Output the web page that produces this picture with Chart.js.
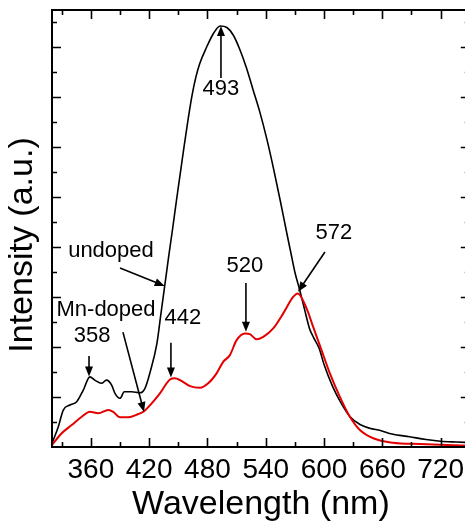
<!DOCTYPE html>
<html><head><meta charset="utf-8">
<script src="https://cdn.jsdelivr.net/npm/chart.js@4.4.0/dist/chart.umd.min.js"></script>
<style>
html,body{margin:0;padding:0;overflow:hidden;background:#fff;width:465px;height:530px}
#wrap{position:absolute;left:0;top:0;width:470px;height:530px}
</style>
</head><body><div id="wrap"><canvas id="c" width="470" height="530"></canvas></div>
<script>
// ---- data ----
const xTickValues = [360, 420, 480, 540, 600, 660, 720];

const undopedNm = [320, 326.5, 331.6, 338.5, 345.4, 352.2, 359, 364, 371, 376, 381.4, 384.8, 390, 394.4, 402, 410.5, 415.7,
  421, 428, 432, 436, 440, 444, 448, 452, 456, 460, 464, 468, 472, 479, 486, 493,
  500, 506.5, 513, 520, 527, 534, 541, 548, 555, 562, 566, 570, 575, 580, 585, 589, 595, 600, 609, 617, 627, 637,
  647, 658, 670, 688, 705, 720, 736, 750];
const undopedI = [0.15, 0.81, 1.48, 1.68, 1.81, 2.28, 2.81, 2.68, 2.55, 2.68, 2.48, 2.15, 1.95, 2.21, 2.21, 2.17, 2.35,
  3.0, 4.15, 5.3, 6.45, 7.6, 8.7, 9.85, 10.95, 12.05, 13.1, 14.05, 14.8, 15.35, 16.0, 16.55, 16.86,
  16.8, 16.5, 15.95, 15.2, 14.3, 13.4, 12.35, 11.15, 9.85, 8.5, 7.75, 7.0, 6.28, 5.5, 4.75, 4.4, 3.95, 3.3, 2.41, 1.8, 1.2, 0.9,
  0.75, 0.66, 0.52, 0.41, 0.3, 0.23, 0.2, 0.18];

const dopedNm = [320, 330, 340.3, 350.6, 359, 367.6, 377.9, 383, 390, 398.5, 408.8, 414, 422.6, 431.1, 441.4, 446.5,
  451.7, 462, 472.3, 480.8, 489.4, 496.2, 503.1, 510, 518.6, 523.7, 530.6, 537.4, 547.7, 558, 568.2, 573, 582,
  588.8, 597.4, 606, 616.3, 626.6, 636.9, 650.6, 671.1, 698.6, 726, 750];
const dopedI = [0.08, 0.55, 0.88, 1.21, 1.41, 1.35, 1.48, 1.41, 1.19, 1.19, 1.32, 1.41, 1.75, 2.15, 2.7, 2.75,
  2.68, 2.44, 2.37, 2.55, 2.95, 3.41, 3.68, 4.28, 4.55, 4.52, 4.31, 4.41, 4.75, 5.35, 6.01, 6.15, 5.55,
  4.81, 3.88, 2.95, 2.01, 1.21, 0.68, 0.35, 0.17, 0.12, 0.08, 0.05];

const seriesNames = ['undoped', 'Mn-doped'];
const peakLabels = ['493', '358', '442', '520', '572'];

// ---- annotation placement (data coordinates) ----
const FONT = '"Liberation Sans", Arial, sans-serif';
const textNotes = [
  {text: peakLabels[0], x: 493.9, y: 14.34},
  {text: peakLabels[1], x: 361.2, y: 4.45},
  {text: peakLabels[2], x: 454.8, y: 5.17},
  {text: peakLabels[3], x: 518.6, y: 7.25},
  {text: peakLabels[4], x: 610.1, y: 8.57},
  {text: seriesNames[0], x: 380.7, y: 7.85},
  {text: seriesNames[1], x: 375.6, y: 5.49}
];
const arrowNotes = [
  {x1: 493.9, y1: 14.78, x2: 493.9, y2: 16.86},
  {x1: 358.1, y1: 3.64, x2: 358.1, y2: 2.82},
  {x1: 442.4, y1: 4.17, x2: 442.4, y2: 2.78},
  {x1: 519.6, y1: 6.57, x2: 519.6, y2: 4.62},
  {x1: 600.9, y1: 7.81, x2: 573.3, y2: 6.22},
  {x1: 390.0, y1: 7.17, x2: 436.0, y2: 6.45},
  {x1: 393.0, y1: 4.60, x2: 414.7, y2: 1.40}
];

function toPoints(xs, ys) { return xs.map((v, i) => ({x: v, y: ys[i]})); }

function drawArrow(ctx, x1, y1, x2, y2) {
  const ang = Math.atan2(y2 - y1, x2 - x1);
  const L = 10, W = 4;
  ctx.beginPath();
  ctx.moveTo(x1, y1);
  ctx.lineTo(x2 - (L - 2) * Math.cos(ang), y2 - (L - 2) * Math.sin(ang));
  ctx.stroke();
  ctx.beginPath();
  ctx.moveTo(x2, y2);
  ctx.lineTo(x2 - L * Math.cos(ang) + W * Math.sin(ang), y2 - L * Math.sin(ang) - W * Math.cos(ang));
  ctx.lineTo(x2 - L * Math.cos(ang) - W * Math.sin(ang), y2 - L * Math.sin(ang) + W * Math.cos(ang));
  ctx.closePath();
  ctx.fill();
}

const framePlugin = {
  id: 'frame',
  afterDatasetsDraw(chart) {
    const {ctx, chartArea: a, scales: {x, y}} = chart;
    ctx.save();
    ctx.strokeStyle = '#000';
    ctx.fillStyle = '#000';
    // ticks (inward)
    ctx.lineWidth = 1.6;
    for (let v = 330; v <= 750; v += 30) {
      const px = Math.round(x.getPixelForValue(v)) + 0.5;
      const len = (v % 60 === 0) ? 9 : 5;
      ctx.beginPath();
      ctx.moveTo(px, a.bottom); ctx.lineTo(px, a.bottom - len);
      ctx.moveTo(px, a.top); ctx.lineTo(px, a.top + len);
      ctx.stroke();
    }
    for (let v = 1; v <= 17; v++) {
      const py = Math.round(y.getPixelForValue(v)) + 0.5;
      const len = (v % 2 === 0) ? 9 : 5;
      ctx.beginPath();
      ctx.moveTo(a.left, py); ctx.lineTo(a.left + len, py);
      ctx.moveTo(a.right, py); ctx.lineTo(a.right - len, py);
      ctx.stroke();
    }
    // frame
    ctx.lineWidth = 2;
    ctx.strokeRect(a.left, a.top, a.right - a.left, a.bottom - a.top);
    // annotations
    ctx.font = '22px ' + FONT;
    ctx.textAlign = 'center';
    ctx.textBaseline = 'middle';
    textNotes.forEach(n => ctx.fillText(n.text, x.getPixelForValue(n.x), y.getPixelForValue(n.y)));
    ctx.lineWidth = 1.6;
    arrowNotes.forEach(n => drawArrow(ctx, x.getPixelForValue(n.x1), y.getPixelForValue(n.y1),
      x.getPixelForValue(n.x2), y.getPixelForValue(n.y2)));
    // y-axis title
    ctx.translate(23, 245);
    ctx.rotate(-Math.PI / 2);
    ctx.font = '34px ' + FONT;
    ctx.fillText('Intensity (a.u.)', 0, 0);
    ctx.restore();
  }
};

new Chart(document.getElementById('c'), {
  type: 'line',
  data: {
    datasets: [
      {label: seriesNames[1], data: toPoints(dopedNm, dopedI), borderColor: 'rgb(228,0,0)', borderWidth: 2,
       pointRadius: 0, cubicInterpolationMode: 'monotone', fill: false, order: 0},
      {label: seriesNames[0], data: toPoints(undopedNm, undopedI), borderColor: '#000', borderWidth: 1.6,
       pointRadius: 0, cubicInterpolationMode: 'monotone', fill: false, order: 1}
    ]
  },
  options: {
    responsive: false, animation: false, devicePixelRatio: 1,
    layout: {padding: {top: 10, left: 0, right: 0, bottom: 0}},
    plugins: {legend: {display: false}, tooltip: {enabled: false}},
    scales: {
      x: {
        type: 'linear', min: 320, max: 750, position: 'bottom',
        afterBuildTicks: s => { s.ticks = xTickValues.map(v => ({value: v})); },
        afterFit: s => { s.height = 83; },
        grid: {display: false, drawTicks: false}, border: {display: false},
        ticks: {padding: 6, color: '#000', font: {family: FONT, size: 28}, maxRotation: 0, autoSkip: false},
        title: {display: true, text: 'Wavelength (nm)', color: '#000', font: {family: FONT, size: 34},
                padding: {top: 0, bottom: 5}}
      },
      y: {
        type: 'linear', min: 0, max: 17.5,
        afterFit: s => { s.width = 52; },
        ticks: {display: false}, grid: {display: false, drawTicks: false}, border: {display: false}
      }
    }
  },
  plugins: [framePlugin]
});
</script>
</body></html>
